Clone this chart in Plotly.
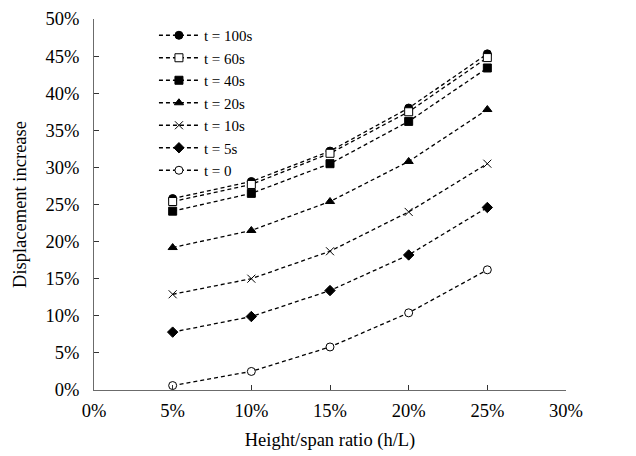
import plotly.graph_objects as go

hl_ratio = [0.05, 0.10, 0.15, 0.20, 0.25]
series_names = ["t = 100s", "t = 60s", "t = 40s", "t = 20s", "t = 10s", "t = 5s", "t = 0"]
t100 = [0.258, 0.281, 0.322, 0.380, 0.453]
t60 = [0.254, 0.277, 0.319, 0.375, 0.448]
t40 = [0.241, 0.265, 0.305, 0.362, 0.434]
t20 = [0.192, 0.215, 0.254, 0.308, 0.378]
t10 = [0.129, 0.150, 0.187, 0.240, 0.305]
t5 = [0.078, 0.099, 0.134, 0.182, 0.246]
t0 = [0.006, 0.025, 0.058, 0.104, 0.162]

values = [t100, t60, t40, t20, t10, t5, t0]
symbols = ["circle", "square", "square", "triangle-up", "x-thin", "diamond", "circle"]
fills = ["black", "white", "black", "black", "black", "black", "white"]

fig = go.Figure()
for name, vals, sym, fc in zip(series_names, values, symbols, fills):
    fig.add_trace(go.Scatter(
        x=hl_ratio, y=vals, name=name, mode="lines+markers",
        line=dict(color="black", width=1.3, dash="4px,3px"),
        marker=dict(symbol=sym, size=8, color=fc,
                    line=dict(color="black", width=1)),
    ))

FAM = "Times New Roman"
font = dict(family=FAM, color="black")
fig.update_layout(
    width=636, height=456,
    margin=dict(l=86, r=78, t=11, b=74),
    paper_bgcolor="white", plot_bgcolor="white",
    font=dict(size=18, **font),
    showlegend=True,
    legend=dict(x=0.127, y=1.0, xanchor="left", yanchor="top",
                bgcolor="rgba(0,0,0,0)", font=dict(size=15, **font),
                tracegroupgap=0, itemwidth=40),
)
fig.update_xaxes(
    range=[0, 0.30], dtick=0.05, tickformat=".0%", automargin=False,
    showgrid=False, zeroline=False, showline=True, linecolor="#6b6b6b", linewidth=1,
    ticks="inside", ticklen=5, tickcolor="#333333", ticklabelstandoff=4,
    ticklabeloverflow="allow",
    title=dict(text="Height/span ratio (h/L)", font=dict(size=18.5, **font), standoff=12),
    tickfont=dict(size=18.5, **font),
)
fig.update_yaxes(
    range=[0, 0.50], dtick=0.05, tickformat=".0%", automargin=False,
    showgrid=False, zeroline=False, showline=True, linecolor="#6b6b6b", linewidth=1,
    ticks="inside", ticklen=5, tickcolor="#333333", ticklabelstandoff=10,
    ticklabeloverflow="allow",
    title=dict(text="Displacement increase", font=dict(size=18.5, **font), standoff=13),
    tickfont=dict(size=18.5, **font),
)
fig.write_html("out.html")
